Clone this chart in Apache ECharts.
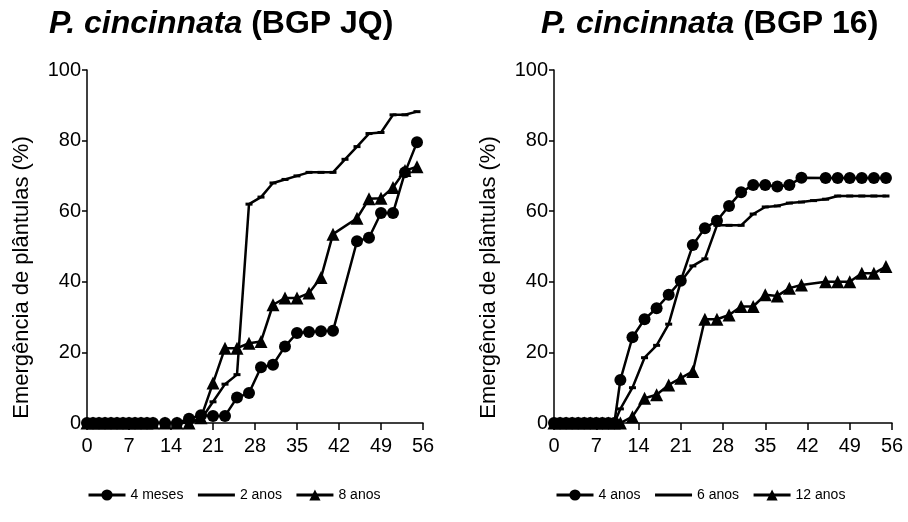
<!DOCTYPE html>
<html>
<head>
<meta charset="utf-8">
<script src="https://cdn.jsdelivr.net/npm/echarts@6/dist/echarts.min.js"></script>
<style>
  html, body { margin: 0; padding: 0; background: #fff; }
  #chart { width: 908px; height: 522px; }
</style>
</head>
<body>
<div id="chart"></div>
<script>
// dias (diário até 11, depois a cada 2 dias)
var days = [0,1,2,3,4,5,6,7,8,9,10,11,13,15,17,19,21,23,25,27,29,31,33,35,37,39,41,43,45,47,49,51,53,55];
var xTicks = [0,7,14,21,28,35,42,49,56];

// BGP JQ
var jq4meses = [0,0,0,0,0,0,0,0,0,0,0,0, 0,0,1.2,2.2,2,2,7.2,8.5,15.8,16.5,21.7,25.5,25.8,26,26.1,null,51.5,52.5,59.5,59.5,71,79.5];
var jq2anos  = [0,0,0,0,0,0,0,0,0,0,0,0, 0,0,0,1,6,11,13.7,62,64,68,69,70,71,71,71,74.7,78.3,82,82.3,87.3,87.3,88.2];
var jq8anos  = [0,0,0,0,0,0,0,0,0,0,0,0, 0,0,0,1.5,11.3,21.2,21.2,22.6,23.1,33.5,35.4,35.4,36.8,41.2,53.5,null,58,63.5,63.7,66.7,71.5,72.6];

// BGP 16
var b16_4anos  = [0,0,0,0,0,0,0,0,0,0,0,12.2, 24.3,29.4,32.5,36.3,40.3,50.4,55.2,57.3,61.5,65.4,67.4,67.4,67,67.4,69.5,null,69.4,69.4,69.4,69.4,69.4,69.4];
var b16_6anos  = [0,0,0,0,0,0,0,0,0,0,0,4, 10,18.5,22,28,40,44.5,46.5,56,56,56,59.2,61.2,61.5,62.3,62.6,63,63.4,64.3,64.3,64.3,64.3,64.3];
var b16_12anos = [0,0,0,0,0,0,0,0,0,0,0,0, 1.8,7,8,10.8,12.7,14.6,29.4,29.4,30.6,33,33,36.3,36,38.2,39.1,null,40,40,40,42.4,42.4,44.3];

var font = 'Liberation Sans, Arial, sans-serif';

function pairs(vals){
    return days.map(function(d, i){ return [d, vals[i]]; });
}

function mkSeries(name, vals, idx, kind){
    var s = {
        name: name,
        type: 'line',
        xAxisIndex: idx,
        yAxisIndex: idx,
        data: pairs(vals),
        connectNulls: true,
        showAllSymbol: true,
        lineStyle: { color: '#000', width: 2.5 },
        itemStyle: { color: '#000' },
        emphasis: { disabled: true }
    };
    if (kind == 'circle') { s.symbol = 'circle'; s.symbolSize = 12; }
    else if (kind == 'triangle') { s.symbol = 'triangle'; s.symbolSize = 13; }
    else { s.symbol = 'rect'; s.symbolSize = [7, 3]; }
    return s;
}

function xAx(idx){
    return {
        type: 'value', gridIndex: idx, min: 0, max: 56, interval: 7,
        axisLine: { lineStyle: { color: '#000', width: 1.5 } },
        axisTick: { length: 7, lineStyle: { color: '#000', width: 1.5 } },
        axisLabel: { color: '#000', fontSize: 20, fontFamily: font, margin: 13 },
        splitLine: { show: false }
    };
}
function yAx(idx){
    return {
        type: 'value', gridIndex: idx, min: 0, max: 100, interval: 20,
        name: 'Emergência de plântulas (%)',
        nameLocation: 'middle', nameGap: 54,
        nameTextStyle: { color: '#000', fontSize: 22, fontFamily: font, padding: [0, 62, 0, 0] },
        axisLine: { show: true, lineStyle: { color: '#000', width: 1.5 } },
        axisTick: { show: true, length: 5, lineStyle: { color: '#000', width: 1.5 } },
        axisLabel: { color: '#000', fontSize: 20, fontFamily: font, margin: 6 },
        splitLine: { show: false }
    };
}
function legendAt(x, names){
    return {
        data: [
            { name: names[0] },
            { name: names[1], itemStyle: { opacity: 0 } },
            { name: names[2] }
        ],
        left: x, top: 483,
        itemWidth: 37, itemHeight: 14, itemGap: 13,
        lineStyle: { width: 3 },
        textStyle: { color: '#000', fontSize: 14, fontFamily: font },
        selectedMode: false
    };
}
function titleAt(x, txt){
    return {
        text: '{i|P. cincinnata} (' + txt + ')',
        left: x, top: 3,
        textStyle: {
            color: '#000', fontSize: 32, fontWeight: 'bold', fontFamily: font,
            rich: { i: { fontStyle: 'italic', fontWeight: 'bold', fontSize: 32, fontFamily: font, color: '#000' } }
        }
    };
}

var chart = echarts.init(document.getElementById('chart'), null, { renderer: 'canvas' });
chart.setOption({
    animation: false,
    backgroundColor: '#fff',
    title: [ titleAt(44, 'BGP JQ'), titleAt(536, 'BGP 16') ],
    legend: [
        legendAt(82, ['4 meses', '2 anos', '8 anos']),
        legendAt(550, ['4 anos', '6 anos', '12 anos'])
    ],
    grid: [
        { left: 87, right: 485, top: 70, bottom: 99 },
        { left: 554, right: 16, top: 70, bottom: 99 }
    ],
    xAxis: [ xAx(0), xAx(1) ],
    yAxis: [ yAx(0), yAx(1) ],
    series: [
        mkSeries('2 anos', jq2anos, 0, 'dash'),
        mkSeries('8 anos', jq8anos, 0, 'triangle'),
        mkSeries('4 meses', jq4meses, 0, 'circle'),
        mkSeries('6 anos', b16_6anos, 1, 'dash'),
        mkSeries('12 anos', b16_12anos, 1, 'triangle'),
        mkSeries('4 anos', b16_4anos, 1, 'circle')
    ]
});
</script>
</body>
</html>
